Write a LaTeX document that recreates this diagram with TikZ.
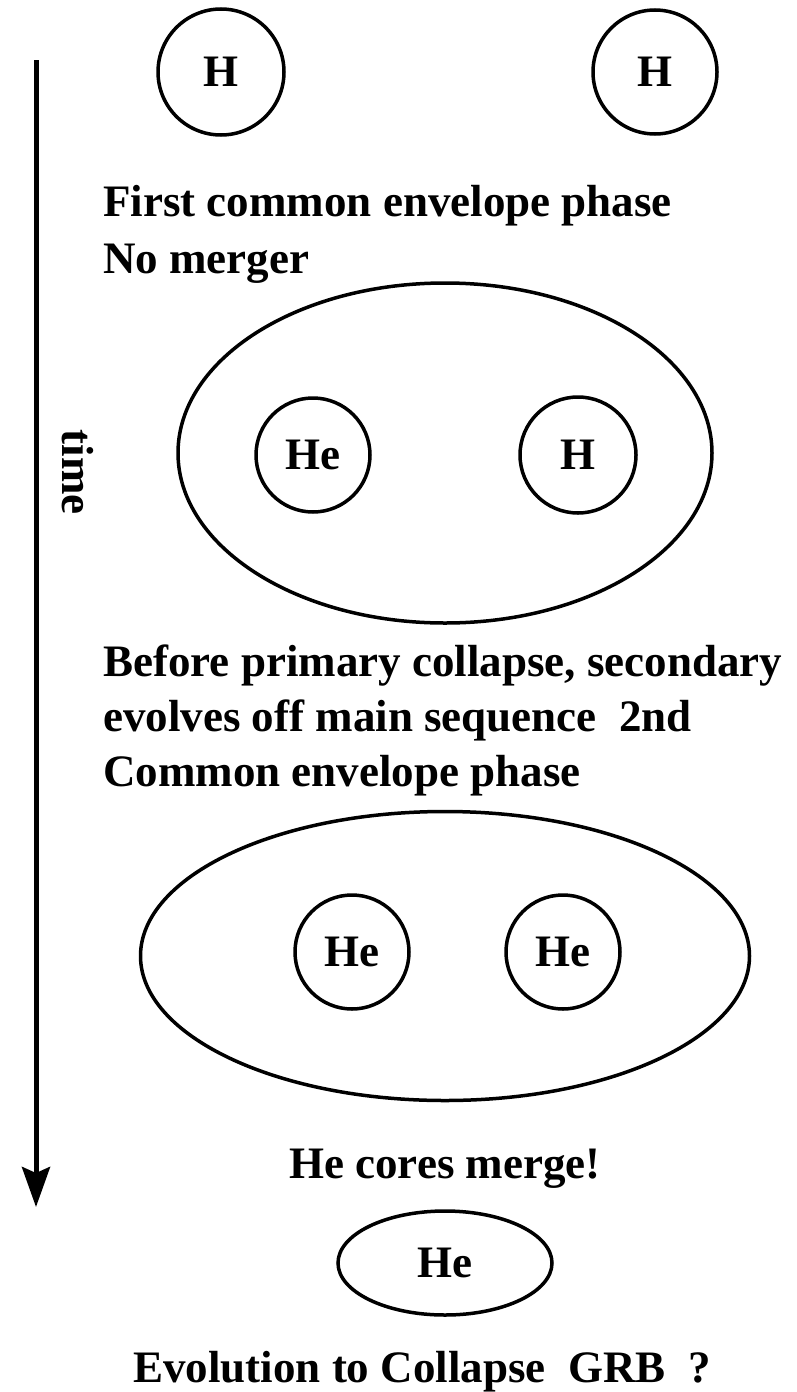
\documentclass[tikz,border=0pt]{standalone}
\usepackage{fontspec}
\setmainfont{Liberation Serif}
\usetikzlibrary{shapes.geometric,arrows.meta}
\begin{document}
\begin{tikzpicture}[x=1pt,y=-1pt,
  lbl/.style={anchor=base west,inner sep=0pt,font=\fontsize{45}{54}\selectfont\bfseries},
  core/.style={ellipse,draw,line width=3.5pt,inner sep=0pt,font=\fontsize{45}{54}\selectfont\bfseries},
  env/.style={ellipse,draw,line width=3.5pt,inner sep=0pt}]
\useasboundingbox[fill=white] (0,0) rectangle (797,1392);
% time arrow
\coordinate (tstart) at (36,60);
\coordinate (tend) at (36,1207);
\draw[line width=5pt,-{Stealth[length=40pt,width=28pt,inset=6pt]}] (tstart) -- (tend);
\node[anchor=base,inner sep=0pt,rotate=-90,font=\fontsize{45}{54}\selectfont\bfseries] (time) at (62,472) {time};
% top H stars
\node[core,minimum width=126pt,minimum height=126pt] (h1) at (221,72) {H};
\node[core,minimum width=124pt,minimum height=124pt] (h2) at (655,72) {H};
\node[lbl] (t1) at (103,216) {First common envelope phase};
\node[lbl] (t2) at (103,273) {No merger};
% first common envelope
\node[env,minimum width=534pt,minimum height=340pt] (e1) at (445,453) {};
\node[core,minimum width=114pt,minimum height=114pt] (he1) at (313,455) {He};
\node[core,minimum width=116pt,minimum height=116pt] (h3) at (578,455) {H};
\node[lbl] (t3) at (103,676) {Before primary collapse, secondary};
\node[lbl] (t4) at (103,731) {evolves off main sequence\ \ 2nd};
\node[lbl] (t5) at (103,786) {Common envelope phase};
% second common envelope
\node[env,minimum width=609pt,minimum height=289pt] (e2) at (445,956) {};
\node[core,minimum width=114pt,minimum height=114pt] (he2) at (352,952) {He};
\node[core,minimum width=114pt,minimum height=114pt] (he3) at (563,952) {He};
\node[lbl,anchor=base] (t6) at (445,1178) {He cores merge!};
% merged core
\node[core,minimum width=214pt,minimum height=104pt] (he4) at (445,1263) {He};
\node[lbl] (t7) at (133,1382) {Evolution to Collapse\ \ GRB\ \ ?};
\end{tikzpicture}
\end{document}
